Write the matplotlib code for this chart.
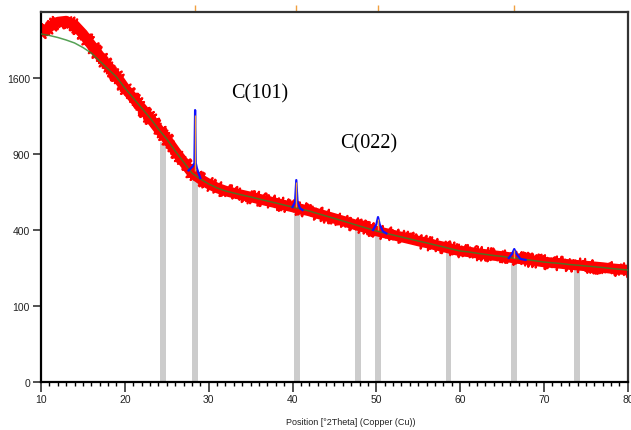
import numpy as np
import matplotlib.pyplot as plt
from matplotlib.ticker import MultipleLocator, FixedLocator

two_theta = list(range(10, 81))
counts = [2097, 2182, 2244, 2256, 2207, 2097, 1966, 1840, 1729, 1621,
          1496, 1396, 1300, 1207, 1108, 1022, 924, 838, 756, 713,
          679, 652, 632, 618, 605, 593, 580, 567, 555, 542,
          530, 518, 506, 491, 477, 463, 449, 435, 421, 408,
          395, 384, 374, 364, 354, 344, 335, 325, 316, 306,
          297, 293, 287, 282, 277, 273, 268, 263, 259, 254,
          249, 246, 243, 239, 236, 233, 230, 227, 223, 220, 217]

# fitted background differs from the data only at low angle (10..19)
bg_low = [2097, 2079, 2055, 2025, 1990, 1937, 1874, 1784, 1696, 1611]
background = bg_low + counts[10:]

# fitted peak profiles (blue)
peak_x = [
    [27.6, 28.1, 28.3, 28.38, 28.46, 28.6, 29.0],
    [40.0, 40.3, 40.45, 40.6, 40.9, 41.2],
    [49.6, 50.0, 50.2, 50.4, 50.8, 51.2],
    [65.8, 66.2, 66.45, 66.7, 67.2, 67.8],
]
peak_y = [
    [775, 805, 830, 1280, 830, 790, 720],
    [530, 560, 706, 560, 522, 512],
    [400, 430, 471, 430, 392, 382],
    [266, 285, 306, 285, 262, 258],
]
stick_pos = [28.38, 40.45, 50.2, 66.45]
stick_base = [770, 530, 400, 266]
stick_top = [1230, 690, 460, 300]

# reference pattern lines (grey bars)
ref_pos = [24.5, 28.4, 40.5, 47.8, 50.2, 58.6, 66.4, 73.9]
ref_height = [1000, 740, 520, 420, 392, 306, 262, 232]

fig = plt.figure(figsize=(6.31, 4.31), dpi=100)
ax = fig.add_axes([0.065, 0.1114, 0.93, 0.8584])

ax.set_yscale('function', functions=(lambda v: np.sqrt(np.clip(v, 0, None)),
                                      lambda v: np.square(v)))

ax.bar(ref_pos, ref_height, width=0.7, color='#cccccc', zorder=1)

ax.plot(two_theta, counts, color='red', lw=7.5, solid_capstyle='butt', zorder=2)
fuzz, = ax.plot(two_theta, counts, color='red', lw=1.6, zorder=2)
fuzz.set_sketch_params(scale=7, length=1.5, randomness=2)

ax.plot(two_theta, background, color='#2a8a2a', alpha=0.8, lw=1.1, zorder=3)

for px, py in zip(peak_x, peak_y):
    ax.plot(px, py, color='#1010ff', lw=1.6, zorder=4)
ax.vlines(stick_pos, stick_base, stick_top, color='#f0a040', lw=1.0, zorder=5)

ax.text(32.7, 1406, 'C(101)', family='Liberation Serif', fontsize=14.5,
        va='baseline', ha='left')
ax.text(45.7, 956, 'C(022)', family='Liberation Serif', fontsize=14.5,
        va='baseline', ha='left')

ax.set_xlim(10, 80)
ax.set_ylim(0, 2370)
ax.xaxis.set_major_locator(MultipleLocator(10))
ax.xaxis.set_minor_locator(MultipleLocator(1))
ax.yaxis.set_major_locator(FixedLocator([0, 100, 400, 900, 1600]))
ax.yaxis.set_minor_locator(FixedLocator([]))

ax.tick_params(axis='both', which='major', direction='out', width=1.1,
               labelsize=7.5, colors='#222222', pad=2)
ax.tick_params(axis='x', which='major', length=7)
ax.tick_params(axis='y', which='major', length=6)
ax.tick_params(axis='x', which='minor', direction='out', length=3, width=1.0)
for lab in ax.get_xticklabels() + ax.get_yticklabels():
    lab.set_family('Liberation Sans')

for side in ['left', 'bottom']:
    ax.spines[side].set_linewidth(1.6)
    ax.spines[side].set_color('black')
for side in ['top', 'right']:
    ax.spines[side].set_linewidth(1.6)
    ax.spines[side].set_color('#333333')

top = ax.secondary_xaxis('top')
top.set_xticks(stick_pos)
top.set_xticklabels([])
top.tick_params(direction='out', length=5, width=1.0, color='#f0a040')
top.spines['top'].set_visible(False)

ax.set_xlabel('Position [°2Theta] (Copper (Cu))', family='Liberation Sans',
              fontsize=6.5, color='#222222', labelpad=6)
ax.xaxis.set_label_coords(0.528, -0.095)

fig.savefig('out.png', dpi=100)
